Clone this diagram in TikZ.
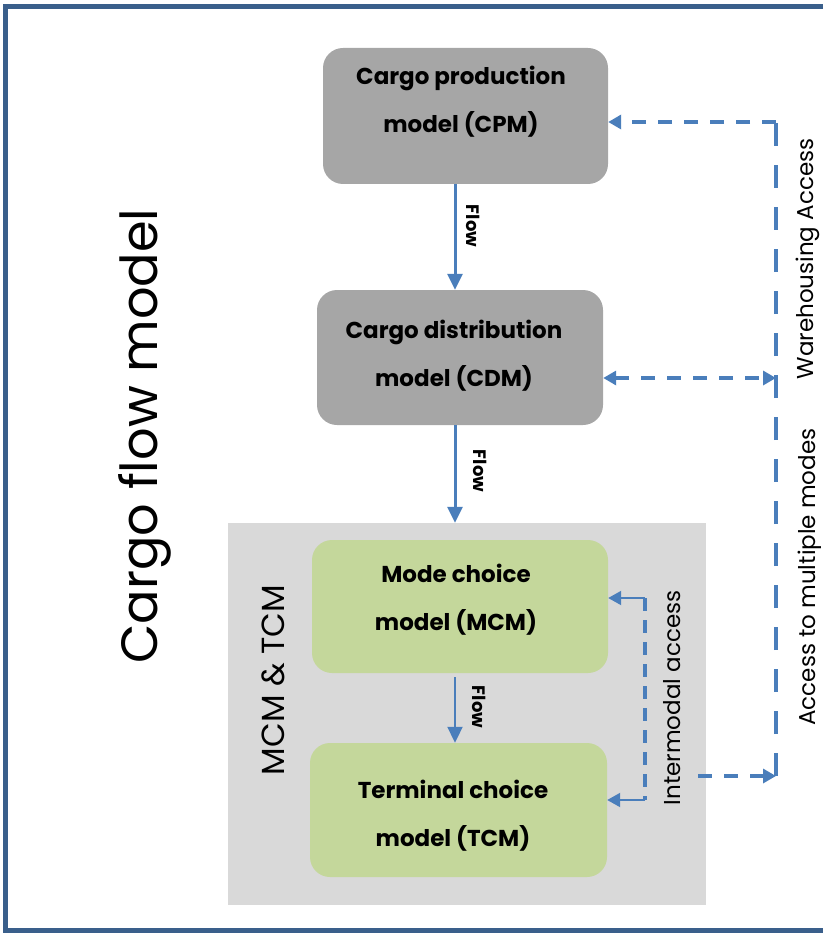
\documentclass[tikz,border=0pt]{standalone}
\usepackage{fontspec}
\setmainfont{Poppins}
\usetikzlibrary{arrows.meta}
\definecolor{framecol}{HTML}{3A5F8B}
\definecolor{linkblue}{HTML}{4A7EBB}
\definecolor{boxgray}{HTML}{A6A6A6}
\definecolor{regiongray}{HTML}{D9D9D9}
\definecolor{boxgreen}{HTML}{C4D79B}
\tikzstyle{model} = [rounded corners=20pt,inner sep=0pt]
\tikzstyle{modeltext} = [align=center,inner sep=0pt,font=\fontsize{23}{48}\selectfont\bfseries]
\tikzstyle{flow} = [-{Triangle[width=15pt,length=16pt]},linkblue,line width=3pt]
\tikzstyle{access} = [-{Triangle[width=14pt,length=13pt]},linkblue,line width=4pt,dash pattern=on 14pt off 12pt]
\tikzstyle{trunk} = [linkblue,line width=4pt,dash pattern=on 23pt off 19pt]
\tikzstyle{interlink} = [linkblue,line width=4pt,dash pattern=on 13pt off 9pt]
\tikzstyle{interarrow} = [-{Triangle[width=14pt,length=13pt]},linkblue,line width=2pt]
\tikzstyle{flowlabel} = [rotate=-90,font=\fontsize{18}{18}\selectfont\bfseries]
\tikzstyle{sidelabel} = [rotate=90,font=\fontsize{23}{23}\selectfont]

\begin{document}
\begin{tikzpicture}[x=1pt,y=-1pt]
    \useasboundingbox (0,0) rectangle (823,933);
    \draw[framecol,line width=4.5pt] (823,6.5) -- (5.5,6.5) -- (5.5,930.5) -- (823,930.5);

    \node[fill=regiongray,minimum width=478,minimum height=382,inner sep=0pt] at (467,714) (region) {};

    \node[model,fill=boxgray,minimum width=285,minimum height=136] at (465.5,116) (cpm) {};
    \node[model,fill=boxgray,minimum width=286,minimum height=135] at (460,357.5) (cdm) {};
    \node[model,fill=boxgreen,minimum width=296,minimum height=133] at (460,606.5) (mcm) {};
    \node[model,fill=boxgreen,minimum width=297,minimum height=134] at (458.5,810) (tcm) {};

    \node[modeltext] at (461,102) (cpmtext) {Cargo production\\model (CPM)};
    \node[modeltext] at (454,356) (cdmtext) {Cargo distribution\\model (CDM)};
    \node[modeltext] at (456,600) (mcmtext) {Mode choice\\model (MCM)};
    \node[modeltext] at (453,816) (tcmtext) {Terminal choice\\model (TCM)};

    \coordinate (spine) at (455,0);
    \draw[flow] (spine |- cpm.south) -- (spine |- cdm.north);
    \draw[flow] (spine |- cdm.south) -- (spine |- region.north);
    \draw[flow,line width=2pt] ([yshift=-4pt]spine |- mcm.south) -- (spine |- tcm.north);
    \node[flowlabel] at (473,226) (flowa) {Flow};
    \node[flowlabel] at (480,471) (flowb) {Flow};
    \node[flowlabel] at (479,707) (flowc) {Flow};

    \coordinate (wh) at (776,122);
    \coordinate (mid) at (776,378);
    \coordinate (bot) at (776,776);
    \coordinate (intstart) at (698,776);
    \draw[trunk] (bot) -- (wh);
    \draw[access] (wh) -- (cpm.east |- wh);
    \draw[access,{Triangle[width=14pt,length=13pt]}-{Triangle[width=14pt,length=13pt]}] (cdm.east |- mid) -- (mid);
    \draw[access] (intstart) -- (bot);

    \coordinate (imtop) at (645,598);
    \coordinate (imbot) at (645,800);
    \draw[interlink] (imtop) -- (imbot);
    \draw[interarrow] (imtop) -- (mcm.east |- imtop);
    \draw[interarrow] (imbot) -- (tcm.east |- imbot);

    \node[sidelabel] at (672,698) (intlabel) {Intermodal access};
    \node[sidelabel] at (810,577) (multilabel) {Access to multiple modes};
    \node[sidelabel] at (808,259) (whlabel) {Warehousing Access};
    \node[sidelabel,font=\fontsize{32}{32}\selectfont] at (273,680) (regionlabel) {MCM \& TCM};
    \node[rotate=90,font=\fontsize{51}{51}\selectfont] at (145,436) (title) {Cargo flow model};
\end{tikzpicture}
\end{document}
